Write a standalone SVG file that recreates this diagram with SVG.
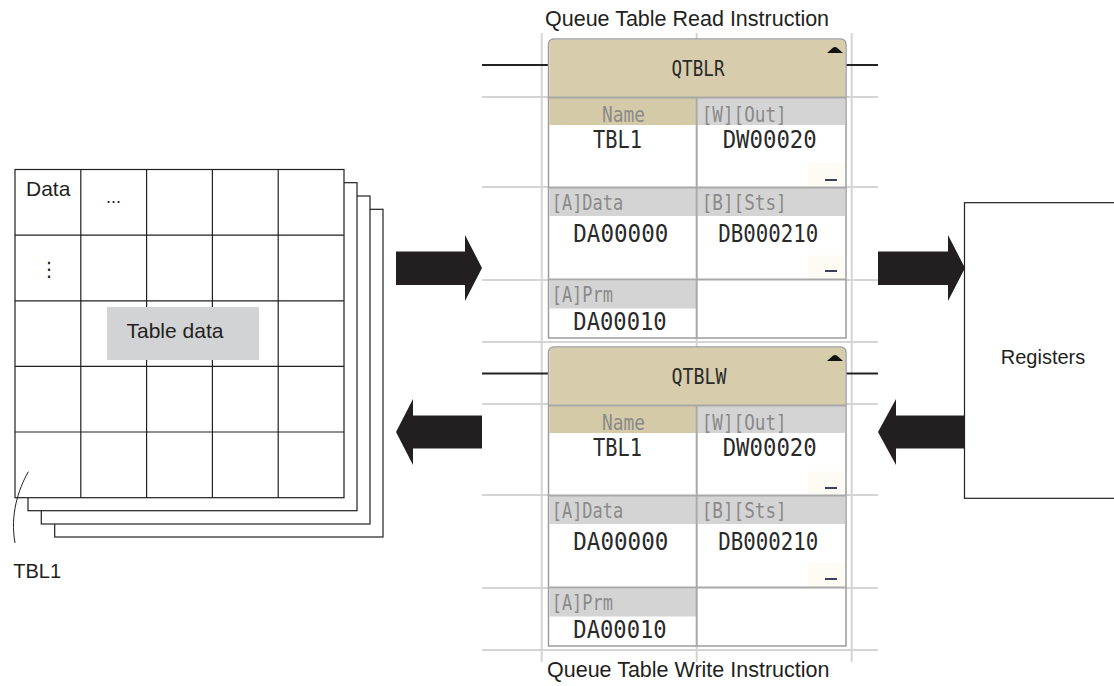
<svg xmlns="http://www.w3.org/2000/svg" width="1114" height="686" viewBox="0 0 1114 686">
<style>
.sans{font-family:"Liberation Sans",Arial,sans-serif;fill:#231f20}
.mono{font-family:"DejaVu Sans Mono","Liberation Mono",monospace}
.lbl{font-size:21px;fill:#8a8a8a}
.val{font-size:25px;fill:#2a2a2a}
.hdr{font-size:22px;fill:#2a2a2a}
.sheet{fill:#fff;stroke:#231f20;stroke-width:1.2}
.tg{stroke:#231f20;stroke-width:1.2;fill:none}
.gl{stroke:#d4d4d4;stroke-width:2}
.rung{stroke:#222;stroke-width:2}
.cell{stroke:#a8a8a8;stroke-width:2}
.arrow{fill:#231f20}
.hbg{fill:#d7cdac}
.tan{fill:#d5caa7}
.gry{fill:#d4d4d5}
.dash{fill:#3a3f5c}
.dbg{fill:#fdfbf4}
</style>
<rect width="1114" height="686" fill="#fff"/>

<g id="ladder-grid">
<line class="gl" x1="541.7" y1="33" x2="541.7" y2="662"/>
<line class="gl" x1="851.7" y1="33" x2="851.7" y2="662"/>
<line class="gl" x1="696.7" y1="33" x2="696.7" y2="662"/>
<line class="gl" x1="482" y1="97" x2="878" y2="97"/>
<line class="gl" x1="482" y1="187" x2="878" y2="187"/>
<line class="gl" x1="482" y1="280" x2="878" y2="280"/>
<line class="gl" x1="482" y1="342" x2="878" y2="342"/>
<line class="gl" x1="482" y1="404" x2="878" y2="404"/>
<line class="gl" x1="482" y1="495" x2="878" y2="495"/>
<line class="gl" x1="482" y1="588" x2="878" y2="588"/>
<line class="gl" x1="482" y1="650" x2="878" y2="650"/>
<line class="rung" x1="482" y1="65" x2="548" y2="65"/>
<line class="rung" x1="846" y1="65" x2="878" y2="65"/>
<line class="rung" x1="482" y1="373.5" x2="548" y2="373.5"/>
<line class="rung" x1="846" y1="373.5" x2="878" y2="373.5"/>
</g>

<g id="table-stack">
<rect class="sheet" x="54.7" y="209.3" width="328.3" height="327.7"/>
<rect class="sheet" x="41.3" y="196" width="328.7" height="328"/>
<rect class="sheet" x="28" y="182.7" width="329" height="328"/>
<rect class="sheet" x="15" y="169.5" width="329" height="328.2"/>
<path class="tg" d="M80.8,169.5V497.7M146.6,169.5V497.7M212.4,169.5V497.7M278.2,169.5V497.7M15,235.1H344M15,300.8H344M15,366.4H344M15,432H344"/>
<rect x="107" y="307" width="152" height="53" fill="#d1d3d4"/>
<text class="sans" x="126.5" y="338" font-size="21">Table data</text>
<text class="sans" x="26" y="196" font-size="21">Data</text>
<text class="sans" x="106" y="202.5" font-size="18">...</text>
<text x="49" y="276" font-size="20" text-anchor="middle" style="font-family:'DejaVu Sans',sans-serif;fill:#231f20">⋮</text>
<path d="M28.3,471.7 C18,490 10,515 15,543" fill="none" stroke="#231f20" stroke-width="1"/>
<text class="sans" x="13.3" y="578.3" font-size="20">TBL1</text>
</g>

<g id="registers">
<rect x="964.5" y="202.7" width="170" height="295.6" fill="#fff" stroke="#231f20" stroke-width="1.2"/>
<text class="sans" x="1043" y="364" font-size="20" text-anchor="middle">Registers</text>
</g>

<g id="titles">
<text class="sans" x="545" y="26" font-size="21.5">Queue Table Read Instruction</text>
<text class="sans" x="547" y="677" font-size="21.5">Queue Table Write Instruction</text>
</g>

<g id="qtblr">
<path d="M548.5,338 V45 Q548.5,39 554.5,39 H840 Q846,39 846,45 V338 Z" fill="#fff" stroke="#9c9c9c" stroke-width="1.5"/>
<path class="hbg" d="M549.3,97 V45 Q549.3,39.8 554.5,39.8 H840 Q845.2,39.8 845.2,45 V97 Z"/>
<rect class="tan" x="549.3" y="98" width="147" height="27"/>
<rect class="gry" x="697.5" y="98" width="147.7" height="27"/>
<rect class="gry" x="549.3" y="188" width="147" height="28"/>
<rect class="gry" x="697.5" y="188" width="147.7" height="28"/>
<rect class="gry" x="549.3" y="280.5" width="147" height="28"/>
<rect class="dbg" x="808" y="163" width="37" height="23"/>
<rect class="dbg" x="808" y="255" width="37" height="24"/>
<line class="cell" x1="548.5" y1="97.5" x2="846" y2="97.5"/>
<line class="cell" x1="548.5" y1="187.5" x2="846" y2="187.5"/>
<line class="cell" x1="548.5" y1="279.5" x2="846" y2="279.5"/>
<line class="cell" x1="696.7" y1="97.5" x2="696.7" y2="338"/>
<path d="M827,53 L833.2,47.6 Q835,46.2 836.8,47.6 L843,53 Z" fill="#111"/>
<rect class="dash" x="825" y="179" width="12" height="2"/>
<rect class="dash" x="825" y="270" width="12" height="2"/>
<text class="mono hdr" x="698" y="76" text-anchor="middle" textLength="53" lengthAdjust="spacingAndGlyphs">QTBLR</text>
<text class="mono lbl" x="602" y="121.5" textLength="43" lengthAdjust="spacingAndGlyphs">Name</text>
<text class="mono lbl" x="701.7" y="121.5" textLength="85" lengthAdjust="spacingAndGlyphs">[W][Out]</text>
<text class="mono val" x="593" y="148" textLength="49" lengthAdjust="spacingAndGlyphs">TBL1</text>
<text class="mono val" x="722.7" y="148" textLength="94" lengthAdjust="spacingAndGlyphs">DW00020</text>
<text class="mono lbl" x="551.7" y="210" textLength="71.6" lengthAdjust="spacingAndGlyphs">[A]Data</text>
<text class="mono lbl" x="701.7" y="210" textLength="85" lengthAdjust="spacingAndGlyphs">[B][Sts]</text>
<text class="mono val" x="573.3" y="241.7" textLength="95" lengthAdjust="spacingAndGlyphs">DA00000</text>
<text class="mono val" x="718.3" y="241.7" textLength="100" lengthAdjust="spacingAndGlyphs">DB000210</text>
<text class="mono lbl" x="551.7" y="302.3" textLength="61.3" lengthAdjust="spacingAndGlyphs">[A]Prm</text>
<text class="mono val" x="573.3" y="330" textLength="93.4" lengthAdjust="spacingAndGlyphs">DA00010</text>
</g>

<g id="qtblw">
<path d="M548.5,646 V353 Q548.5,347 554.5,347 H840 Q846,347 846,353 V646 Z" fill="#fff" stroke="#9c9c9c" stroke-width="1.5"/>
<path class="hbg" d="M549.3,405 V353 Q549.3,347.8 554.5,347.8 H840 Q845.2,347.8 845.2,353 V405 Z"/>
<rect class="tan" x="549.3" y="406" width="147" height="27"/>
<rect class="gry" x="697.5" y="406" width="147.7" height="27"/>
<rect class="gry" x="549.3" y="496" width="147" height="28"/>
<rect class="gry" x="697.5" y="496" width="147.7" height="28"/>
<rect class="gry" x="549.3" y="588.5" width="147" height="28"/>
<rect class="dbg" x="808" y="471" width="37" height="23"/>
<rect class="dbg" x="808" y="563" width="37" height="24"/>
<line class="cell" x1="548.5" y1="405.5" x2="846" y2="405.5"/>
<line class="cell" x1="548.5" y1="495.5" x2="846" y2="495.5"/>
<line class="cell" x1="548.5" y1="587.5" x2="846" y2="587.5"/>
<line class="cell" x1="696.7" y1="405.5" x2="696.7" y2="646"/>
<path d="M827,361 L833.2,355.6 Q835,354.2 836.8,355.6 L843,361 Z" fill="#111"/>
<rect class="dash" x="825" y="487" width="12" height="2"/>
<rect class="dash" x="825" y="578" width="12" height="2"/>
<text class="mono hdr" x="699" y="384" text-anchor="middle" textLength="55" lengthAdjust="spacingAndGlyphs">QTBLW</text>
<text class="mono lbl" x="602" y="429.5" textLength="43" lengthAdjust="spacingAndGlyphs">Name</text>
<text class="mono lbl" x="701.7" y="429.5" textLength="85" lengthAdjust="spacingAndGlyphs">[W][Out]</text>
<text class="mono val" x="593" y="456" textLength="49" lengthAdjust="spacingAndGlyphs">TBL1</text>
<text class="mono val" x="722.7" y="456" textLength="94" lengthAdjust="spacingAndGlyphs">DW00020</text>
<text class="mono lbl" x="551.7" y="518" textLength="71.6" lengthAdjust="spacingAndGlyphs">[A]Data</text>
<text class="mono lbl" x="701.7" y="518" textLength="85" lengthAdjust="spacingAndGlyphs">[B][Sts]</text>
<text class="mono val" x="573.3" y="549.7" textLength="95" lengthAdjust="spacingAndGlyphs">DA00000</text>
<text class="mono val" x="718.3" y="549.7" textLength="100" lengthAdjust="spacingAndGlyphs">DB000210</text>
<text class="mono lbl" x="551.7" y="610.3" textLength="61.3" lengthAdjust="spacingAndGlyphs">[A]Prm</text>
<text class="mono val" x="573.3" y="638" textLength="93.4" lengthAdjust="spacingAndGlyphs">DA00010</text>
</g>

<g id="connectors">
<polygon class="arrow" points="396,251.5 465,251.5 465,235 482,268 465,301 465,285 396,285"/>
<polygon class="arrow" points="396,432 413,399 413,415.5 482,415.5 482,448.5 413,448.5 413,465"/>
<polygon class="arrow" points="878,251.5 948,251.5 948,235 965,268 948,301 948,285 878,285"/>
<polygon class="arrow" points="878,432 896,399 896,415.5 965,415.5 965,448.5 896,448.5 896,465"/>
</g>
</svg>
